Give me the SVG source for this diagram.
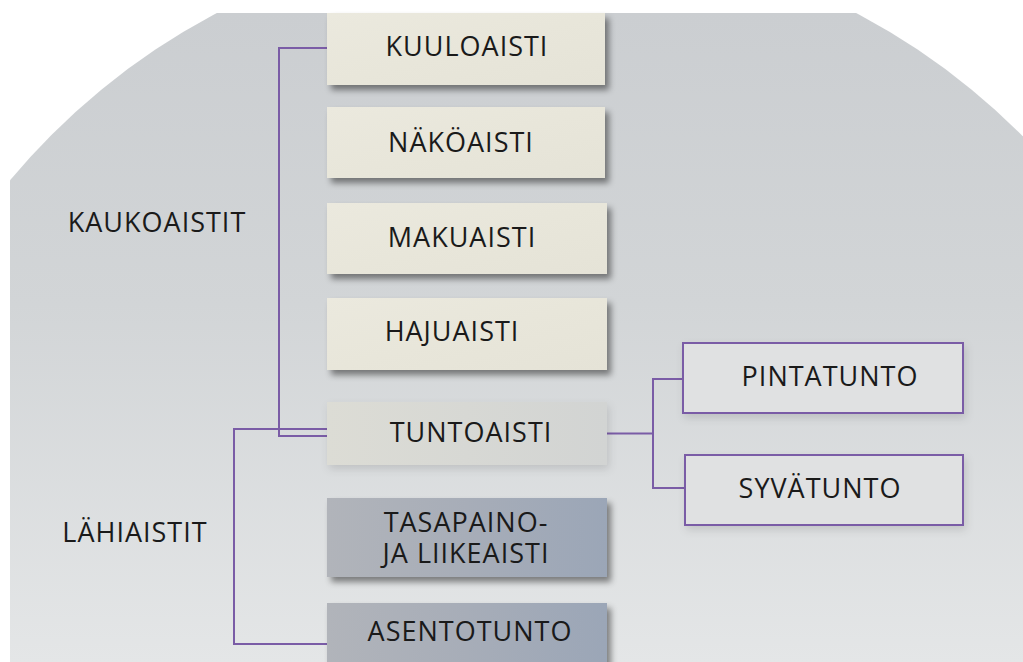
<svg xmlns="http://www.w3.org/2000/svg" width="1023" height="662" viewBox="0 0 1023 662">
<defs>
<clipPath id="clipBg"><rect x="10" y="13" width="1013" height="649"/></clipPath>
<linearGradient id="bgGrad" gradientUnits="userSpaceOnUse" x1="0" y1="13" x2="0" y2="662">
<stop offset="0" stop-color="#cbced1"/>
<stop offset="0.45" stop-color="#d2d5d7"/>
<stop offset="1" stop-color="#e4e6e7"/>
</linearGradient>
<linearGradient id="cream" x1="0" y1="0" x2="1" y2="1">
<stop offset="0" stop-color="#ebe9de"/>
<stop offset="0.5" stop-color="#e8e6da"/>
<stop offset="1" stop-color="#e5e3d7"/>
</linearGradient>
<linearGradient id="tunto" x1="0" y1="0" x2="1" y2="0">
<stop offset="0" stop-color="#dcdcd5"/>
<stop offset="1" stop-color="#d2d4d3"/>
</linearGradient>
<linearGradient id="bluegray" x1="0" y1="0" x2="1" y2="0">
<stop offset="0" stop-color="#b1b4ba"/>
<stop offset="0.5" stop-color="#a7adb8"/>
<stop offset="1" stop-color="#9ba6b7"/>
</linearGradient>
<filter id="shadow" x="-5%" y="-10%" width="115%" height="140%">
<feDropShadow dx="4" dy="5" stdDeviation="3" flood-color="#000" flood-opacity="0.45"/>
</filter>
<filter id="softShadow" x="-5%" y="-10%" width="115%" height="140%">
<feDropShadow dx="2" dy="4" stdDeviation="4" flood-color="#000" flood-opacity="0.12"/>
</filter>
<style>
.lbl{font-family:"Open Sans","Noto Sans","DejaVu Sans",sans-serif;font-size:27px;letter-spacing:1px;fill:#1a1a1a;text-anchor:middle}
.side{font-family:"Open Sans","Noto Sans","DejaVu Sans",sans-serif;font-size:27px;letter-spacing:1px;fill:#1a1a1a;text-anchor:middle}
.conn{fill:none;stroke:#7a5ca6;stroke-width:2}
.outline{fill:#e0e1e2;stroke:#7a5ca6;stroke-width:2}
</style>
</defs>
<rect x="0" y="0" width="1023" height="662" fill="#ffffff"/>
<g id="background" clip-path="url(#clipBg)">
<circle cx="536.5" cy="620" r="686" fill="url(#bgGrad)"/>
</g>
<g id="connectors">
<polyline class="conn" points="327,48 279,48 279,436 327,436"/>
<polyline class="conn" points="327,429 234,429 234,644 327,644"/>
<line class="conn" x1="607" y1="433.5" x2="653" y2="433.5"/>
<polyline class="conn" points="683,379 653,379 653,488 685,488"/>
</g>
<g id="kaukoaistit"><text class="side" x="157" y="232">KAUKOAISTIT</text></g>
<g id="lahiaistit"><text class="side" x="135" y="542">LÄHIAISTIT</text></g>
<g id="kuuloaisti">
<rect x="327" y="13" width="278" height="72" fill="url(#cream)" filter="url(#shadow)"/>
<text class="lbl" x="467" y="56">KUULOAISTI</text>
</g>
<g id="nakoaisti">
<rect x="327" y="107" width="278" height="71" fill="url(#cream)" filter="url(#shadow)"/>
<text class="lbl" x="461" y="152">NÄKÖAISTI</text>
</g>
<g id="makuaisti">
<rect x="327" y="203" width="280" height="71" fill="url(#cream)" filter="url(#shadow)"/>
<text class="lbl" x="462" y="247">MAKUAISTI</text>
</g>
<g id="hajuaisti">
<rect x="327" y="298" width="280" height="72" fill="url(#cream)" filter="url(#shadow)"/>
<text class="lbl" x="452" y="341">HAJUAISTI</text>
</g>
<g id="tuntoaisti">
<rect x="327" y="402" width="280" height="63" fill="url(#tunto)" filter="url(#softShadow)"/>
<text class="lbl" x="471" y="442">TUNTOAISTI</text>
</g>
<g id="tasapaino">
<rect x="327" y="498" width="280" height="79" fill="url(#bluegray)" filter="url(#shadow)"/>
<text class="lbl" x="466" y="532">TASAPAINO-</text>
<text class="lbl" x="466" y="563">JA LIIKEAISTI</text>
</g>
<g id="asentotunto">
<rect x="327" y="603" width="280" height="70" fill="url(#bluegray)" filter="url(#shadow)"/>
<text class="lbl" x="470" y="641">ASENTOTUNTO</text>
</g>
<g id="pintatunto">
<rect class="outline" x="683" y="343" width="280" height="70" filter="url(#softShadow)"/>
<text class="lbl" x="830" y="386">PINTATUNTO</text>
</g>
<g id="syvatunto">
<rect class="outline" x="685" y="455" width="278" height="70" filter="url(#softShadow)"/>
<text class="lbl" x="820" y="498">SYVÄTUNTO</text>
</g>
</svg>
